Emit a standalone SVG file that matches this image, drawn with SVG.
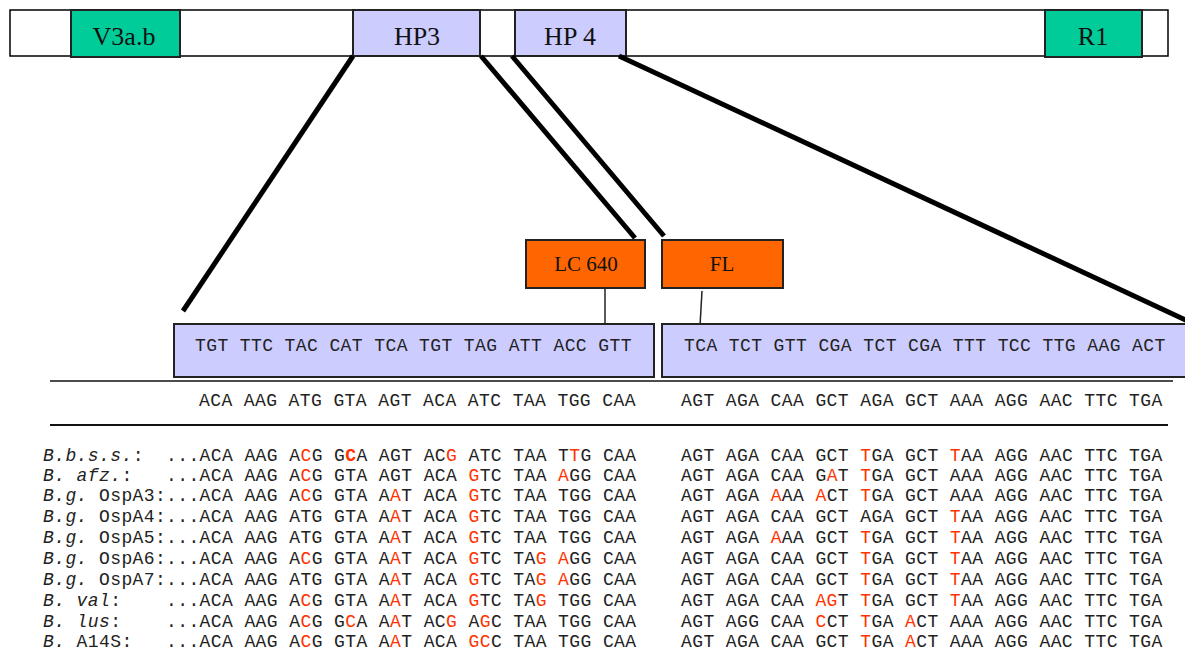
<svg xmlns="http://www.w3.org/2000/svg" width="1185" height="652" viewBox="0 0 1185 652">
<style>
.bar{fill:#fff;stroke:#000;stroke-width:1.5}
.grn{fill:#00CC99;stroke:#222;stroke-width:2}
.lav{fill:#CCCCFF;stroke:#222;stroke-width:2}
.org{fill:#FF6600;stroke:#222;stroke-width:2}
.tl{font-family:"Liberation Serif","Times New Roman",serif;font-size:26px;fill:#111;text-anchor:middle}
.pl{font-family:"Liberation Serif","Times New Roman",serif;font-size:21px;fill:#111;text-anchor:middle}
.seq{font-family:"Liberation Mono","Courier New",monospace;font-size:18px;letter-spacing:0.4px;fill:#222;white-space:pre}
.r{fill:#FF3300}
.b{font-weight:bold}
.i{font-style:italic}
.thick{stroke:#000;stroke-width:5;fill:none}
.thin{stroke:#222;stroke-width:1.5;fill:none}
</style>
<g id="chromosome">
<rect class="bar" x="10" y="10" width="1158" height="46"/>
</g>
<g id="V3ab"><rect class="grn" x="71" y="10" width="109" height="47"/><text class="tl" x="124" y="45">V3a.b</text></g>
<g id="HP3"><rect class="lav" x="353" y="10" width="127" height="46"/><text class="tl" x="417" y="45">HP3</text></g>
<g id="HP4"><rect class="lav" x="515" y="10" width="111" height="46"/><text class="tl" x="570" y="45">HP 4</text></g>
<g id="R1"><rect class="grn" x="1045" y="10" width="97" height="47"/><text class="tl" x="1093" y="45">R1</text></g>
<g id="connectors">
<line class="thick" x1="353" y1="56" x2="183" y2="311"/>
<line class="thick" x1="481" y1="56" x2="635" y2="238"/>
<line class="thick" x1="512" y1="56" x2="664" y2="236"/>
<line class="thick" x1="619" y1="56" x2="1190" y2="322"/>
<line class="thin" x1="605" y1="288" x2="605" y2="324"/>
<line class="thin" x1="702" y1="291" x2="700" y2="326"/>
</g>
<g id="LC640"><rect class="org" x="526" y="240" width="119" height="48"/><text class="pl" x="586" y="271">LC 640</text></g>
<g id="FL"><rect class="org" x="662" y="240" width="121" height="48"/><text class="pl" x="722" y="271">FL</text></g>
<g id="probe-left"><rect class="lav" x="174" y="324" width="480" height="53"/><text class="seq" x="195" y="351">TGT TTC TAC CAT TCA TGT TAG ATT ACC GTT</text></g>
<g id="probe-right"><rect class="lav" x="662" y="324" width="530" height="53"/><text class="seq" x="684" y="351">TCA TCT GTT CGA TCT CGA TTT TCC TTG AAG ACT</text></g>
<g id="reference">
<line x1="50" y1="381" x2="1173" y2="381" stroke="#111" stroke-width="1.5"/>
<line x1="50" y1="425" x2="1168" y2="425" stroke="#111" stroke-width="2"/>
<text class="seq" x="199" y="406">ACA AAG ATG GTA AGT ACA ATC TAA TGG CAA</text>
<text class="seq" x="681" y="406">AGT AGA CAA GCT AGA GCT AAA AGG AAC TTC TGA</text>
</g>
<g id="alignment">
<text class="seq" x="43" y="461"><tspan class="i">B.b.s.s.</tspan>:</text>
<text class="seq" x="166" y="461">...ACA AAG A<tspan class="r">C</tspan>G G<tspan class="r b">C</tspan>A AGT AC<tspan class="r">G</tspan> ATC TAA T<tspan class="r">T</tspan>G CAA</text>
<text class="seq" x="681" y="461">AGT AGA CAA GCT <tspan class="r">T</tspan>GA GCT <tspan class="r">T</tspan>AA AGG AAC TTC TGA</text>

<text class="seq" x="43" y="481"><tspan class="i">B. afz.</tspan>:</text>
<text class="seq" x="166" y="481">...ACA AAG A<tspan class="r">C</tspan>G GTA AGT ACA <tspan class="r">G</tspan>TC TAA <tspan class="r">A</tspan>GG CAA</text>
<text class="seq" x="681" y="481">AGT AGA CAA G<tspan class="r">A</tspan>T <tspan class="r">T</tspan>GA GCT AAA AGG AAC TTC TGA</text>

<text class="seq" x="43" y="501"><tspan class="i">B.g.</tspan> OspA3:</text>
<text class="seq" x="166" y="501">...ACA AAG A<tspan class="r">C</tspan>G GTA A<tspan class="r">A</tspan>T ACA <tspan class="r">G</tspan>TC TAA TGG CAA</text>
<text class="seq" x="681" y="501">AGT AGA <tspan class="r">A</tspan>AA <tspan class="r">A</tspan>CT <tspan class="r">T</tspan>GA GCT AAA AGG AAC TTC TGA</text>

<text class="seq" x="43" y="522"><tspan class="i">B.g.</tspan> OspA4:</text>
<text class="seq" x="166" y="522">...ACA AAG ATG GTA A<tspan class="r">A</tspan>T ACA <tspan class="r">G</tspan>TC TAA TGG CAA</text>
<text class="seq" x="681" y="522">AGT AGA CAA GCT AGA GCT <tspan class="r">T</tspan>AA AGG AAC TTC TGA</text>

<text class="seq" x="43" y="543"><tspan class="i">B.g.</tspan> OspA5:</text>
<text class="seq" x="166" y="543">...ACA AAG ATG GTA A<tspan class="r">A</tspan>T ACA <tspan class="r">G</tspan>TC TAA TGG CAA</text>
<text class="seq" x="681" y="543">AGT AGA <tspan class="r">A</tspan>AA GCT <tspan class="r">T</tspan>GA GCT <tspan class="r">T</tspan>AA AGG AAC TTC TGA</text>

<text class="seq" x="43" y="564"><tspan class="i">B.g.</tspan> OspA6:</text>
<text class="seq" x="166" y="564">...ACA AAG A<tspan class="r">C</tspan>G GTA A<tspan class="r">A</tspan>T ACA <tspan class="r">G</tspan>TC TA<tspan class="r">G</tspan> <tspan class="r">A</tspan>GG CAA</text>
<text class="seq" x="681" y="564">AGT AGA CAA GCT <tspan class="r">T</tspan>GA GCT <tspan class="r">T</tspan>AA AGG AAC TTC TGA</text>

<text class="seq" x="43" y="585"><tspan class="i">B.g.</tspan> OspA7:</text>
<text class="seq" x="166" y="585">...ACA AAG ATG GTA A<tspan class="r">A</tspan>T ACA <tspan class="r">G</tspan>TC TA<tspan class="r">G</tspan> <tspan class="r">A</tspan>GG CAA</text>
<text class="seq" x="681" y="585">AGT AGA CAA GCT <tspan class="r">T</tspan>GA GCT <tspan class="r">T</tspan>AA AGG AAC TTC TGA</text>

<text class="seq" x="43" y="606"><tspan class="i">B. val</tspan>:</text>
<text class="seq" x="166" y="606">...ACA AAG A<tspan class="r">C</tspan>G GTA A<tspan class="r">A</tspan>T ACA <tspan class="r">G</tspan>TC TA<tspan class="r">G</tspan> TGG CAA</text>
<text class="seq" x="681" y="606">AGT AGA CAA <tspan class="r">AG</tspan>T <tspan class="r">T</tspan>GA GCT <tspan class="r">T</tspan>AA AGG AAC TTC TGA</text>

<text class="seq" x="43" y="627"><tspan class="i">B. lus</tspan>:</text>
<text class="seq" x="166" y="627">...ACA AAG A<tspan class="r">C</tspan>G G<tspan class="r">C</tspan>A A<tspan class="r">A</tspan>T AC<tspan class="r">G</tspan> A<tspan class="r">G</tspan>C TAA TGG CAA</text>
<text class="seq" x="681" y="627">AGT AGG CAA <tspan class="r">C</tspan>CT <tspan class="r">T</tspan>GA <tspan class="r">A</tspan>CT AAA AGG AAC TTC TGA</text>

<text class="seq" x="43" y="647"><tspan class="i">B.</tspan> A14S:</text>
<text class="seq" x="166" y="647">...ACA AAG A<tspan class="r">C</tspan>G GTA A<tspan class="r">A</tspan>T ACA <tspan class="r">GC</tspan>C TAA TGG CAA</text>
<text class="seq" x="681" y="647">AGT AGA CAA GCT <tspan class="r">T</tspan>GA <tspan class="r">A</tspan>CT AAA AGG AAC TTC TGA</text>
</g>
</svg>
